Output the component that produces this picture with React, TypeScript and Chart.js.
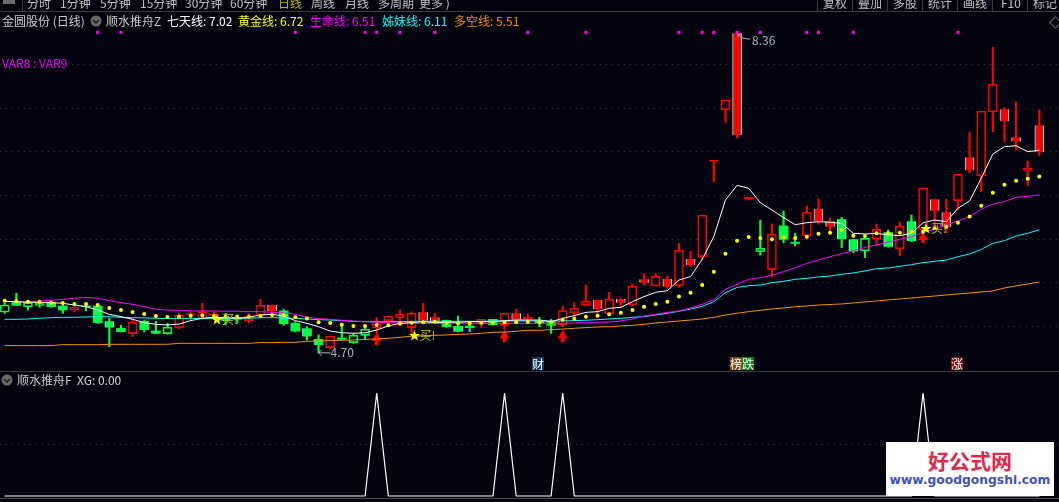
import React, { useEffect, useRef } from "react";
import { Chart, registerables } from "chart.js";

Chart.register(...registerables);

const highs = [5.267,5.382,5.305,5.305,5.298,5.267,5.267,5.267,5.26,5.096,5.015,5.096,5.076,5.061,5.038,5.153,5.16,5.267,5.168,5.153,5.134,5.153,5.313,5.248,5.199,5.057,5.0,4.905,4.893,5.038,4.924,5.0,5.103,5.118,5.191,5.168,5.267,5.153,5.076,5.122,5.057,5.084,5.084,5.153,5.199,5.145,5.107,5.084,5.237,5.275,5.477,5.305,5.393,5.324,5.489,5.611,5.611,5.58,5.954,5.863,6.275,6.905,7.595,8.36,6.48,6.221,6.176,6.324,6.069,6.382,6.462,6.244,6.252,6.0,6.03,6.175,6.107,6.198,6.279,6.584,6.458,6.458,6.744,7.225,7.466,8.199,7.508,7.573,6.893,7.481];
const lows = [5.153,5.24,5.191,5.222,5.222,5.153,5.168,5.183,5.038,4.771,4.939,4.886,4.939,4.916,4.912,4.973,5.069,5.084,5.084,5.019,5.038,5.038,5.107,5.134,5.015,4.939,4.847,4.70,4.752,4.855,4.809,4.855,4.931,5.038,5.046,4.905,5.057,5.038,4.993,4.939,4.943,4.993,5.019,4.97,5.046,5.046,5.0,4.924,5.0,5.1,5.237,5.153,5.126,5.229,5.237,5.477,5.466,5.439,5.45,5.687,5.763,6.66,7.332,7.16,6.46,5.821,5.573,5.962,5.924,6.0,6.176,6.088,5.904,5.847,5.79,5.931,5.908,5.813,5.973,6.088,6.164,6.076,6.336,6.763,6.546,7.233,7.118,7.023,6.614,6.958];
const bodyTops = [5.248,5.286,5.275,5.275,5.279,5.237,5.222,5.237,5.237,5.061,4.981,5.05,5.061,4.95,4.993,5.13,5.145,5.172,5.141,5.096,5.107,5.122,5.244,5.248,5.18,5.038,4.981,4.855,4.893,4.87,4.901,4.97,5.034,5.118,5.141,5.153,5.164,5.107,5.073,5.008,5.008,5.084,5.084,5.153,5.153,5.107,5.065,5.057,5.183,5.21,5.29,5.305,5.313,5.317,5.462,5.542,5.576,5.546,5.874,5.775,6.275,6.905,7.595,8.36,6.48,5.897,6.057,6.153,5.966,6.309,6.347,6.206,6.229,6.0,6.011,6.114,6.08,6.149,6.206,6.584,6.458,6.309,6.744,6.939,7.466,7.775,7.489,7.168,6.813,7.305];
const bodyBottoms = [5.168,5.244,5.229,5.244,5.229,5.191,5.191,5.229,5.046,4.989,4.943,4.92,4.966,4.924,4.92,4.989,5.134,5.092,5.13,5.069,5.084,5.069,5.13,5.18,5.034,4.95,4.886,4.794,4.76,4.855,4.817,4.901,4.985,5.069,5.103,4.989,5.069,5.05,5.0,4.943,4.989,5.038,5.023,5.015,5.08,5.088,5.038,5.015,5.023,5.16,5.244,5.198,5.149,5.275,5.252,5.504,5.469,5.458,5.469,5.702,5.802,6.897,7.484,7.195,6.46,5.859,5.653,6.0,5.954,6.042,6.21,6.145,6.0,5.862,5.87,6.0,5.916,5.893,5.981,6.107,6.328,6.141,6.443,6.79,6.729,7.462,7.351,7.122,6.79,7.0];
const looks = ["o","g","o","o","g","g","h","g","g","c","g","h","g","g","o","h","r","h","r","g","g","h","h","u","g","g","c","g","h","g","o","o","h","h","h","h","u","u","g","c","g","h","g","h","u","r","g","o","h","h","h","u","h","u","h","u","h","u","h","u","h","r","h","u","r","o","h","g","g","h","u","u","c","c","o","h","c","h","c","h","u","u","h","u","h","h","u","u","h","u"];

const seven = [5.29,5.286,5.279,5.279,5.275,5.267,5.248,5.229,5.191,5.141,5.114,5.084,5.046,5.027,5.019,5.03,5.069,5.096,5.107,5.103,5.096,5.107,5.134,5.141,5.122,5.069,5.038,5.0,4.95,4.93,4.924,4.93,4.962,5.008,5.038,5.046,5.057,5.046,5.05,5.05,5.057,5.057,5.057,5.069,5.076,5.076,5.076,5.057,5.095,5.126,5.164,5.172,5.21,5.221,5.286,5.344,5.393,5.412,5.534,5.573,5.771,6.031,6.45,6.618,6.584,6.42,6.336,6.248,6.168,6.19,6.202,6.195,6.183,6.069,6.061,6.069,6.05,6.042,6.069,6.19,6.221,6.202,6.355,6.439,6.698,6.977,7.061,7.072,7.004,7.02];
const gold = [5.298,5.29,5.286,5.279,5.275,5.271,5.26,5.26,5.248,5.214,5.191,5.168,5.145,5.122,5.11,5.114,5.126,5.13,5.122,5.114,5.114,5.114,5.122,5.134,5.13,5.107,5.092,5.05,5.042,5.023,5.008,5.008,5.019,5.015,5.034,5.046,5.05,5.057,5.046,5.038,5.038,5.046,5.046,5.05,5.05,5.054,5.05,5.05,5.08,5.09,5.114,5.126,5.141,5.16,5.191,5.229,5.26,5.286,5.344,5.389,5.477,5.63,5.836,5.985,6.027,6.015,6.0,6.023,6.015,6.03,6.065,6.076,6.107,6.042,6.038,6.069,6.069,6.076,6.088,6.088,6.126,6.145,6.19,6.26,6.385,6.534,6.626,6.672,6.695,6.72];
const life = [5.29,5.286,5.286,5.294,5.302,5.313,5.325,5.336,5.325,5.298,5.275,5.256,5.229,5.199,5.191,5.187,5.18,5.18,5.18,5.176,5.176,5.172,5.172,5.164,5.157,5.141,5.107,5.092,5.084,5.073,5.065,5.057,5.05,5.046,5.042,5.038,5.038,5.038,5.038,5.038,5.038,5.038,5.038,5.038,5.038,5.038,5.038,5.038,5.038,5.042,5.046,5.05,5.053,5.065,5.088,5.122,5.141,5.164,5.179,5.214,5.256,5.309,5.427,5.485,5.542,5.561,5.588,5.63,5.676,5.725,5.763,5.801,5.836,5.87,5.908,5.935,5.969,6.0,6.03,6.08,6.114,6.164,6.21,6.26,6.343,6.404,6.431,6.481,6.492,6.51];
const sister = [5.084,5.084,5.088,5.096,5.103,5.107,5.107,5.111,5.114,5.114,5.107,5.103,5.1,5.096,5.092,5.092,5.096,5.092,5.096,5.096,5.096,5.096,5.103,5.103,5.1,5.096,5.088,5.08,5.076,5.069,5.061,5.057,5.057,5.057,5.057,5.061,5.061,5.061,5.061,5.061,5.061,5.061,5.065,5.065,5.065,5.065,5.065,5.065,5.065,5.069,5.073,5.08,5.088,5.095,5.107,5.115,5.134,5.153,5.176,5.202,5.233,5.286,5.389,5.45,5.469,5.477,5.504,5.519,5.542,5.553,5.57,5.58,5.6,5.615,5.638,5.664,5.672,5.691,5.71,5.733,5.748,5.763,5.801,5.832,5.885,5.954,5.985,6.038,6.069,6.11];
const bullBear = [4.783,4.783,4.783,4.783,4.783,4.794,4.794,4.794,4.794,4.798,4.798,4.798,4.798,4.798,4.798,4.809,4.809,4.809,4.809,4.809,4.809,4.809,4.817,4.817,4.821,4.821,4.832,4.836,4.84,4.844,4.847,4.855,4.859,4.867,4.878,4.89,4.897,4.901,4.905,4.912,4.916,4.924,4.935,4.939,4.947,4.958,4.958,4.966,4.973,4.981,4.989,4.996,5.0,5.008,5.015,5.027,5.042,5.053,5.065,5.076,5.088,5.107,5.134,5.153,5.172,5.187,5.202,5.214,5.229,5.237,5.248,5.254,5.26,5.271,5.283,5.294,5.306,5.317,5.328,5.34,5.351,5.363,5.374,5.386,5.397,5.409,5.443,5.466,5.489,5.51];

const xgValues = highs.map(() => 0);
const xgSignals = [32, 43, 48, 79];
xgSignals.forEach((i) => { xgValues[i] = 1; });

const topMarks = [8, 10, 25, 31, 32, 34, 37, 45, 50, 58, 60, 61, 63, 65, 69, 70, 73, 82];
const topMarkLevel = 8.37;
const arrowIdx = [32, 43, 48, 79];
const arrowTips = [4.931, 4.962, 4.962, 6.088];
const arrowTails = [4.79, 4.825, 4.825, 5.962];
const buyIdx = [18, 35, 79];
const buyLevels = [5.088, 4.905, 6.13];
const gridPrices = [8, 7.5, 7, 6.5, 6, 5.5, 5];

const toolbarLeft: [string, number, string?][] = [["分时", 27],["1分钟", 60],["5分钟", 100],["15分钟", 140],["30分钟", 185],["60分钟", 230],["日线", 278, "#b8b800"],["周线", 311],["月线", 345],["多周期", 378],["更多 )", 419]];
const toolbarRight: [string, number][] = [["复权", 823],["叠加", 858],["多股", 893],["统计", 928],["画线", 963],["F10", 1001],["标记", 1033]];
const toolbarSeps = [22, 817, 852, 887, 922, 957, 992, 1027];
const legendItems: [string, number, string][] = [["七天线: 7.02", 167, "#ffffff"],["黄金线: 6.72", 238, "#ffff00"],["生命线: 6.51", 310, "#ff00ff"],["姊妹线: 6.11", 382, "#00ffff"],["多空线: 5.51", 454, "#ff8c00"]];

const BG = "#02030e";
const RED = "#ff0000";
const GREEN = "#00ff44";
const CYAN = "#7fffff";
const FONT = "'Noto Sans CJK SC', 'Noto Sans', sans-serif";
const XMIN = -4.7 / 11.625;
const XMAX = (1059 - 4.7) / 11.625;
const idxs = highs.map((_, i) => i);
const pts = (a: number[]) => a.map((y, x) => ({ x, y }));
const isGreen = (l: string) => l === "g" || l === "o" || l === "c";

const annotations = {
  id: "annotations",
  afterDatasetsDraw(chart: any) {
    const { ctx, scales } = chart;
    const sx = scales.x, sy = scales.y;
    ctx.save();
    ctx.textBaseline = "middle";
    ctx.font = "12px " + FONT;
    buyIdx.forEach((i, n) => {
      const x = sx.getPixelForValue(i) - 3, y = sy.getPixelForValue(buyLevels[n]);
      ctx.fillStyle = "#ffff00";
      ctx.fillText("★", x, y);
      ctx.fillStyle = "#c4c400";
      ctx.fillText("买!", x + 11, y);
    });
    ctx.strokeStyle = "#b0b0b0";
    ctx.lineWidth = 1;
    const hx = sx.getPixelForValue(63), hy = sy.getPixelForValue(8.36);
    ctx.beginPath();
    ctx.moveTo(hx + 1, hy + 1); ctx.lineTo(hx + 6, hy + 5); ctx.lineTo(hx + 13, hy + 6);
    ctx.moveTo(hx + 1, hy + 1); ctx.lineTo(hx + 4, hy + 1); ctx.moveTo(hx + 1, hy + 1); ctx.lineTo(hx + 1, hy + 4);
    ctx.stroke();
    ctx.fillStyle = "#a8b4bc";
    ctx.fillText("8.36", hx + 15, hy + 7);
    const lx = sx.getPixelForValue(27), ly = sy.getPixelForValue(4.7);
    ctx.beginPath();
    ctx.moveTo(lx, ly); ctx.lineTo(lx + 12, ly);
    ctx.moveTo(lx, ly); ctx.lineTo(lx + 3, ly - 3); ctx.moveTo(lx, ly); ctx.lineTo(lx + 3, ly + 3);
    ctx.stroke();
    ctx.fillText("4.70", lx + 12, ly);
    ctx.fillStyle = "#ff00ff";
    ctx.fillText("VAR8 : VAR9", 2, 63);
    ctx.restore();
  },
};

function chevron(x: number, y: number) {
  return (
    <svg style={{ position: "absolute", left: x - 6, top: y - 6 }} width={12} height={12}>
      <circle cx={6} cy={6} r={5.5} fill="#6a6a6a" />
      <path d="M3 5 L6 8 L9 5" stroke="#15151c" strokeWidth={1.4} fill="none" />
    </svg>
  );
}

function txt(s: string, x: number, y: number, color: string, extra: any = {}) {
  return (
    <span key={s + x + y} style={{ position: "absolute", left: x, top: y - 8, lineHeight: "16px", fontSize: 12, color, whiteSpace: "pre", fontFamily: FONT, ...extra }}>{s}</span>
  );
}

function tag(s: string, x: number, bg: string) {
  return (
    <span key={s} style={{ position: "absolute", left: x, top: 357, width: 12, height: 13, lineHeight: "13px", background: bg, color: "#fff", fontSize: 12, fontFamily: FONT, textAlign: "center" }}>{s}</span>
  );
}

export default function App() {
  const topRef = useRef<HTMLCanvasElement>(null);
  const botRef = useRef<HTMLCanvasElement>(null);

  useEffect(() => {
    const top = new Chart(topRef.current!, {
      type: "bar",
      plugins: [annotations],
      data: {
        datasets: [
          {
            type: "bar", order: 10, grouped: false, barThickness: 1.5,
            data: idxs.map((i) => ({ x: i, y: [lows[i], highs[i]] })) as any,
            backgroundColor: idxs.map((i) => (isGreen(looks[i]) ? GREEN : RED)),
            borderWidth: 0,
          },
          {
            type: "bar", order: 9, grouped: false, barThickness: 9,
            data: idxs.map((i) => ({ x: i, y: [bodyBottoms[i], bodyTops[i]] })) as any,
            backgroundColor: idxs.map((i) => {
              const l = looks[i];
              return l === "h" || l === "o" ? BG : isGreen(l) ? GREEN : RED;
            }),
            borderColor: idxs.map((i) => {
              const l = looks[i];
              return l === "o" ? GREEN : l === "h" || l === "r" ? RED : l === "g" ? GREEN : CYAN;
            }),
            borderWidth: idxs.map((i) => {
              const l = looks[i];
              if (l === "u" || l === "c") return { left: 1, right: 1, top: 0, bottom: 0 };
              if (l === "g" || l === "r") return 0;
              return 1.6;
            }) as any,
            borderSkipped: false,
          },
          {
            type: "bar", order: 8, grouped: false, barThickness: 3,
            data: arrowIdx.map((x, n) => ({ x, y: [arrowTails[n], arrowTips[n] - 0.05] })) as any,
            backgroundColor: RED, borderWidth: 0,
          },
          {
            type: "scatter", order: 7,
            data: arrowIdx.map((x, n) => ({ x, y: arrowTips[n] - 0.063 })),
            pointStyle: "triangle", pointRadius: 5.8, backgroundColor: RED, borderWidth: 0,
          },
          { type: "line", order: 6, data: pts(bullBear), borderColor: "#ff8c00", borderWidth: 1, pointRadius: 0, tension: 0 },
          { type: "line", order: 5, data: pts(sister), borderColor: "#00ffff", borderWidth: 1, pointRadius: 0, tension: 0 },
          { type: "line", order: 4, data: pts(life), borderColor: "#ff00ff", borderWidth: 1, pointRadius: 0, tension: 0 },
          { type: "line", order: 3, data: pts(seven), borderColor: "#ffffff", borderWidth: 1, pointRadius: 0, tension: 0 },
          { type: "scatter", order: 2, data: pts(gold), pointRadius: 2, backgroundColor: "#ffff00", borderWidth: 0 },
          {
            type: "scatter", order: 1,
            data: topMarks.map((x) => ({ x, y: topMarkLevel })),
            pointStyle: "rect", pointRadius: 2.2, backgroundColor: "#ff00ff", borderWidth: 0,
          },
        ] as any,
      },
      options: {
        animation: false, responsive: false, devicePixelRatio: 1,
        layout: { padding: 0, autoPadding: false },
        plugins: { legend: { display: false }, tooltip: { enabled: false } },
        scales: {
          x: { type: "linear", min: XMIN, max: XMAX, display: false, offset: false },
          y: {
            type: "linear", min: 4.4808, max: 8.7405,
            border: { display: false, dash: [1, 5] },
            grid: { color: "#3a3a40", drawTicks: false },
            ticks: { display: false },
            afterBuildTicks: (s: any) => { s.ticks = gridPrices.map((value) => ({ value })); },
          },
        },
      } as any,
    });

    const bot = new Chart(botRef.current!, {
      type: "line",
      data: {
        datasets: [
          { data: pts(xgValues), borderColor: "#ffffff", borderWidth: 1.2, borderJoinStyle: "bevel", pointRadius: 0, tension: 0 },
        ],
      },
      options: {
        animation: false, responsive: false, devicePixelRatio: 1,
        layout: { padding: 0, autoPadding: false },
        plugins: { legend: { display: false }, tooltip: { enabled: false } },
        scales: {
          x: { type: "linear", min: XMIN, max: XMAX, display: false, offset: false },
          y: {
            type: "linear", min: -0.0583, max: 1.2039,
            border: { display: false, dash: [1, 5] },
            grid: { color: "#3a3a40", drawTicks: false },
            ticks: { display: false },
            afterBuildTicks: (s: any) => { s.ticks = [{ value: 0.5 }]; },
          },
        },
      } as any,
    });
    return () => { top.destroy(); bot.destroy(); };
  }, []);

  return (
    <div style={{ position: "fixed", left: 0, top: 0, width: 1059, height: 502, background: BG, overflow: "hidden", fontFamily: FONT }}>
      <canvas ref={topRef} width={1059} height={372} style={{ position: "absolute", left: 0, top: 0, width: 1059, height: 372 }} />
      <canvas ref={botRef} width={1059} height={130} style={{ position: "absolute", left: 0, top: 372, width: 1059, height: 130 }} />

      {toolbarLeft.map(([s, x, c]) => txt(s, x, 3, c || "#c0c0c0"))}
      {toolbarRight.map(([s, x]) => txt(s, x, 3, "#c0c0c0"))}
      {toolbarSeps.map((x) => <div key={x} style={{ position: "absolute", left: x, top: 0, width: 1, height: 11, background: "#3c3c3c" }} />)}
      <div style={{ position: "absolute", left: 3, top: 0, width: 12, height: 4, background: "#6a6a6a" }} />
      <div style={{ position: "absolute", left: 0, top: 11, width: 1059, height: 1, background: "#3c3c3c" }} />
      <div style={{ position: "absolute", left: 1051, top: 18, width: 7, height: 7, border: "1px solid #6a6a6a", transform: "rotate(45deg)" }} />

      {txt("金圆股份 (日线)", 2, 21, "#c8c8c8")}
      {chevron(96, 21)}
      {txt("顺水推舟Z", 106, 21, "#c8c8c8")}
      {legendItems.map(([s, x, c]) => txt(s, x, 21, c))}

      {tag("财", 532, "#0d3a66")}
      {tag("榜", 730, "#7a4a10")}
      {tag("跌", 742, "#0a7a0a")}
      {tag("涨", 951, "#7a0c0c")}

      <div style={{ position: "absolute", left: 0, top: 371, width: 1059, height: 1, background: "#3c3c3c" }} />
      {chevron(7, 380)}
      {txt("顺水推舟F", 17, 380, "#c8c8c8")}
      {txt("XG: 0.00", 77, 380, "#d8d8d8")}

      <div style={{ position: "absolute", left: 0, top: 498, width: 1059, height: 1, background: "#4a4a4a" }} />
      <div style={{ position: "absolute", left: 886, top: 442, width: 168, height: 54, background: "#ffffff" }}>
        <div style={{ position: "absolute", left: 0, width: 168, top: 6, textAlign: "center", color: "#e0284a", fontSize: 21, fontWeight: 700, lineHeight: "24px", fontFamily: FONT }}>好公式网</div>
        <div style={{ position: "absolute", left: 0, width: 168, top: 30, textAlign: "center", color: "#3f51c0", fontSize: 12.3, fontWeight: 700, lineHeight: "16px", fontFamily: "'DejaVu Sans', sans-serif" }}>www.goodgongshi.com</div>
      </div>
    </div>
  );
}
